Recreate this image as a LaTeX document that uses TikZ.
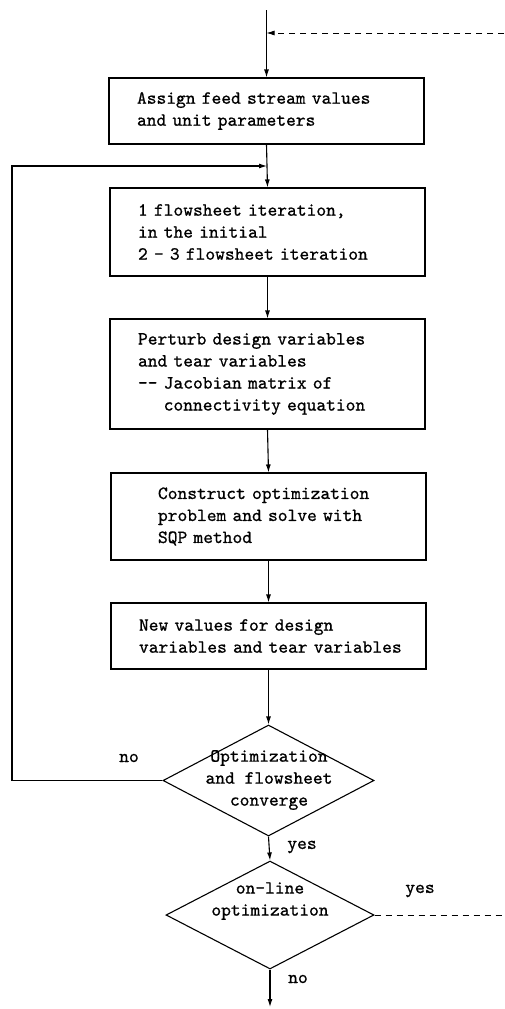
\documentclass[tikz,border=0pt]{standalone}
\usepackage{fontspec}
\newfontfamily\diafont{lmmono10-regular.otf}[FakeBold=0.8]
\usetikzlibrary{arrows.meta,shapes.geometric}
\begin{document}
\begin{tikzpicture}[x=1pt,y=-1pt,
  every node/.style={font=\diafont\fontsize{18.6}{22}\selectfont},
  stepbox/.style={draw,line width=1.1pt,minimum width=315pt,align=left,inner ysep=0pt,inner xsep=28pt,text width=259pt},
  decision/.style={draw,line width=1.1pt,shape=diamond,inner sep=0pt},
  flow/.style={line width=1.1pt,-{Latex[length=8pt,width=5pt]}},
  dashline/.style={line width=0.8pt,dash pattern=on 6pt off 5pt},
  lbl/.style={inner sep=0pt}]
\useasboundingbox (0,0) rectangle (504,1009);
\fill[white] (0,0) rectangle (504,1009);

\node[stepbox,minimum height=66pt] (b1) at (266.5,111) {Assign feed stream values\\and unit parameters};
\node[stepbox,minimum height=88pt] (b2) at (267.5,232) {1 flowsheet iteration,\\in the initial\\2 - 3 flowsheet iteration};
\node[stepbox,minimum height=110pt] (b3) at (267.5,374) {Perturb design variables\\and tear variables\\-{}- Jacobian matrix of\\\phantom{-{}- }connectivity equation};
\node[stepbox,minimum height=87pt,inner xsep=47pt,text width=221pt] (b4) at (268.5,516.5) {Construct optimization\\problem and solve with\\SQP method};
\node[stepbox,minimum height=66pt] (b5) at (268.5,636) {New values for design\\\mbox{variables and tear variables}};

\node[decision,minimum width=211pt,minimum height=111pt] (d1) at (268.5,780.5) {};
\node[lbl,align=center] (t1) at (269,780) {Optimization\\and flowsheet\\converge};
\node[decision,minimum width=208pt,minimum height=108pt] (d2) at (270,915) {};
\node[lbl,align=center] (t2) at (270,901) {on-line\\optimization};

\coordinate (top) at (266.5,10);
\coordinate (jd) at (266.5,33);
\coordinate (dr) at (504,33);
\coordinate (j1) at (267,166);
\coordinate (fl) at (12,780.5);
\coordinate (fu) at (12,166);
\coordinate (dr2) at (504,915);
\coordinate (bot) at (270,1007);

\draw[flow] (top) -- (b1.north);
\draw[dashline,-{Latex[length=8pt,width=5pt]}] (dr) -- (jd);
\draw[flow] (b1.south) -- (b2.north);
\draw[flow] (d1.west) -- (fl) -- (fu) -- (j1);
\draw[flow] (b2.south) -- (b3.north);
\draw[flow] (b3.south) -- (b4.north);
\draw[flow] (b4.south) -- (b5.north);
\draw[flow] (b5.south) -- (d1.north);
\draw[flow] (d1.south) -- (d2.north);
\draw[dashline] (d2.east) -- (dr2);
\draw[flow] (d2.south) -- (bot);

\node[lbl] (lno1) at (129,758) {no};
\node[lbl] (lyes1) at (302,847) {yes};
\node[lbl] (lyes2) at (420,891) {yes};
\node[lbl] (lno2) at (298,979) {no};
\end{tikzpicture}
\end{document}
